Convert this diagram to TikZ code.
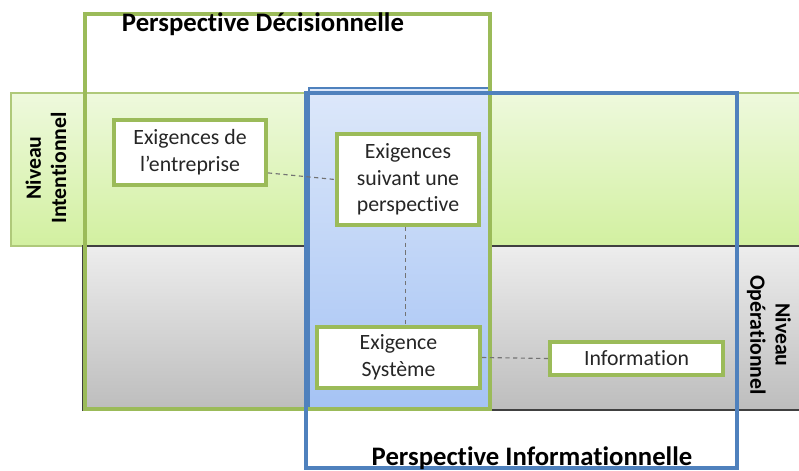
\documentclass[tikz,border=0pt]{standalone}
\usepackage{fontspec}
\setmainfont{Carlito}[Ligatures={NoCommon,NoRequired,NoContextual}]
\usepackage{tikz}
\usetikzlibrary{calc, shadows}
\definecolor{olivegreen}{HTML}{9BBB59}
\definecolor{steelblue}{HTML}{4F81BD}
\definecolor{greentop}{HTML}{EEF9DD}
\definecolor{greenbottom}{HTML}{D2F0A0}
\definecolor{greytop}{HTML}{EDEDED}
\definecolor{greybottom}{HTML}{BDBDBD}
\definecolor{bluetop}{HTML}{DDE8FA}
\definecolor{bluebottom}{HTML}{A5C3F4}

\begin{document}
\begin{tikzpicture}[%
    x=0.025cm, y=-0.025cm,
    perspframe/.style={
      line width=2.8pt
    },
    linkline/.style={
      draw=black!55,
      dash pattern=on 3pt off 2.5pt,
      line width=0.8pt
    },
    levellabel/.style={
      align=center,
      font=\bfseries\fontsize{15.5}{18}\selectfont
    },
    titlelabel/.style={
      font=\bfseries\fontsize{19}{22}\selectfont
    }]
    \useasboundingbox (0,0) rectangle (799,470);
    \tikzset{BoxStyle/.style = {draw=olivegreen, line width=2.8pt, fill=white, align=center,
      text=black!85, font=\fontsize{15.5}{19}\selectfont, inner sep=2pt,
      drop shadow={shadow xshift=1.2pt, shadow yshift=-1.2pt, opacity=0.25}}}

    \draw[olivegreen!80, line width=1pt, top color=greentop, bottom color=greenbottom]
        (11,93) rectangle (830,246);
    \draw[black!75, line width=1pt, top color=greytop, bottom color=greybottom]
        (83,246) rectangle (830,410);
    \draw[steelblue, line width=0.8pt, top color=bluetop, bottom color=bluebottom]
        (309,88) rectangle (490,408);

    \draw[perspframe, olivegreen] (85,14) rectangle (490,409);
    \draw[perspframe, steelblue] (306,93) rectangle (737,468);

    \node[titlelabel] (decision) at (263,24) {Perspective Décisionnelle};
    \node[titlelabel] (informationnelle) at (532,458) {Perspective Informationnelle};
    \node[levellabel, rotate=90] (intentionnel) at (46,168) {Niveau\\Intentionnel};
    \node[levellabel, rotate=-90] (operationnel) at (769,335) {Niveau\\Opérationnel};

    \node[BoxStyle, minimum width=3.8cm, minimum height=1.63cm] at (190,152.5) (entreprise)
        {Exigences de\\l’entreprise};
    \node[BoxStyle, minimum width=3.55cm, minimum height=2.28cm] at (408,179.5) (perspective)
        {Exigences\\suivant une\\perspective};
    \node[BoxStyle, minimum width=4.08cm, minimum height=1.53cm] at (398.5,357.5) (systeme)
        {Exigence\\Système};
    \node[BoxStyle, minimum width=4.33cm, minimum height=0.83cm] at (636.5,358.5) (information)
        {Information};

    \path[linkline]
        ([yshift=-14.5pt]entreprise.east) edge (perspective.west)
        ([xshift=-1.5pt]perspective.south) edge ([xshift=-1.5pt]perspective.south |- systeme.north)
        (systeme.east) edge (information.west)
        ;
\end{tikzpicture}
\end{document}
